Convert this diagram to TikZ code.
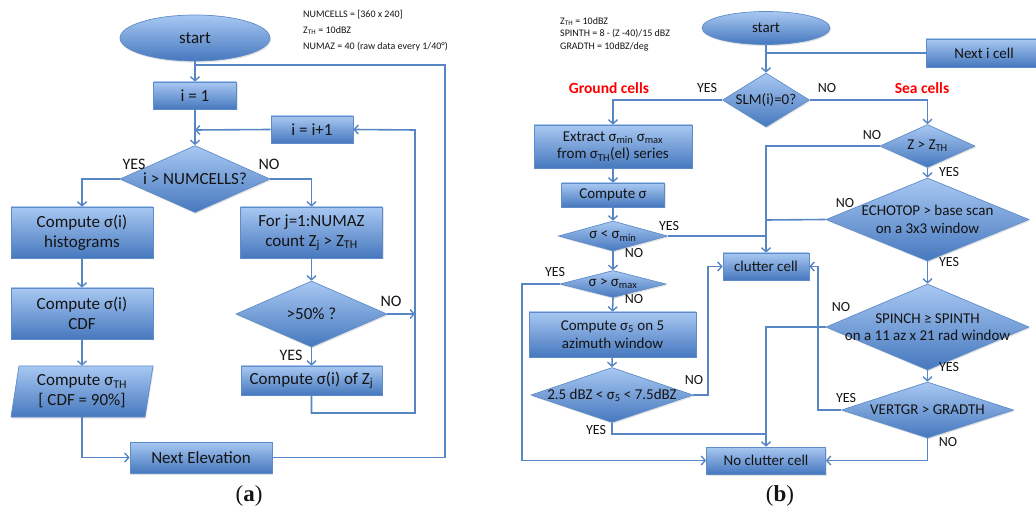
\documentclass[tikz,border=0pt]{standalone}
\usepackage{fontspec}
\setmainfont{Carlito}
\newfontfamily\capfont{Liberation Serif}
\usetikzlibrary{shapes.geometric,arrows.meta,shadows}
\definecolor{topc}{RGB}{168,200,242}
\definecolor{botc}{RGB}{70,120,190}
\definecolor{bordc}{RGB}{95,140,200}
\definecolor{linec}{RGB}{88,134,196}
\definecolor{txtc}{RGB}{20,20,20}
\newcommand\fa{\fontsize{17}{20}\selectfont}
\newcommand\fb{\fontsize{15}{17.5}\selectfont}
\newcommand\fla{\fontsize{16}{18}\selectfont}
\newcommand\flb{\fontsize{14}{16}\selectfont}
\newcommand\fna{\fontsize{10}{16}\selectfont}
\newcommand\fnb{\fontsize{10}{12.5}\selectfont}
\tikzset{
  fl/.style={draw=bordc, line width=0.7pt, top color=topc, bottom color=botc, inner sep=0pt, align=center, text=txtc,
    drop shadow={opacity=0.22, shadow xshift=1pt, shadow yshift=-1.5pt}},
  box/.style={fl, rectangle},
  dia/.style={fl, diamond},
  ell/.style={fl, ellipse},
  txt/.style={inner sep=0pt, align=center, text=txtc},
  lab/.style={inner sep=0pt, text=txtc},
  ln/.style={draw=linec, line width=1.6pt},
  arr/.style={ln, -{Straight Barb[length=4pt,width=9pt,line width=1.4pt]}},
  red/.style={inner sep=0pt, text=red, font=\fontsize{15.5}{18}\selectfont\bfseries},
}
\begin{document}
\begin{tikzpicture}[x=1pt,y=-1pt]
\useasboundingbox (0,0) rectangle (1036,510);
% ---------------- panel (a)
\node[ell, minimum width=150, minimum height=46, font=\fa] (sa) at (195,38) {start};
\node[lab, anchor=north west, align=left, font=\fna] (na) at (303,10) {NUMCELLS = [360 x 240]\\Z\textsubscript{TH} = 10dBZ\\NUMAZ = 40 (raw data every 1/40°)};
\node[box, minimum width=83, minimum height=27, font=\fa] (i1) at (195,95.5) {i = 1};
\node[box, minimum width=82, minimum height=27, font=\fa] (inc) at (312,129.5) {i = i+1};
\node[dia, minimum width=150, minimum height=67] (d1) at (195,179) {};
\node[txt, font=\fa] (d1t) at (d1) {i > NUMCELLS?};
\node[box, minimum width=142, minimum height=51, font=\fa] (hist) at (82,232.5) {Compute σ(i)\\histograms};
\node[box, minimum width=142, minimum height=51, font=\fa] (forj) at (311.5,232.5) {For j=1:NUMAZ\\count Z\textsubscript{j} > Z\textsubscript{TH}};
\node[box, minimum width=142, minimum height=51, font=\fa] (cdf) at (82,313.5) {Compute σ(i)\\CDF};
\path[fl] (19,366) -- (153,366) -- (145,417) -- (11,417) -- cycle;
\node[txt, font=\fa, minimum width=134, minimum height=51] (sth) at (82,391.5) {Compute σ\textsubscript{TH}\\{}[ CDF = 90\%]};
\node[dia, minimum width=151, minimum height=66] (d2) at (311.5,314) {};
\node[txt, font=\fa] (d2t) at (d2) {>50\% ?};
\node[box, minimum width=141, minimum height=29, font=\fa] (csz) at (311.5,380.5) {Compute σ(i) of Z\textsubscript{j}};
\node[box, minimum width=142, minimum height=31, font=\fa] (next) at (201,457.5) {Next Elevation};
\coordinate (ja) at (195,65);
\coordinate (ra) at (445,65);
\coordinate (jb) at (195,130);
\coordinate (rb) at (415,314);
\coordinate (rc) at (415,130);
\coordinate (rd) at (415,413);
\draw[arr] (sa) -- (i1);
\draw[ln] (next.east) -| (ra) -- (ja);
\draw[arr] (i1) -- (d1.north);
\draw[arr] (inc.west) -- (jb);
\draw[arr] (d1.west) -| (hist.north);
\draw[arr] (d1.east) -| (forj.north);
\draw[arr] (hist) -- (cdf);
\draw[arr] (cdf.south) -- (sth.north);
\draw[arr] (sth.south) |- (next.west);
\draw[arr] (forj) -- (d2.north);
\draw[arr] (d2.east) -- (rb);
\draw[arr] (d2.south) -- (csz.north);
\draw[arr] (csz.south) |- (rd) -- (rc) -- (inc.east);
\node[lab, font=\fla] (ya) at (134,164) {YES};
\node[lab, font=\fla] (noa) at (269,164) {NO};
\node[lab, font=\fla] (nob) at (391,301) {NO};
\node[lab, font=\fla] (yb) at (291,355) {YES};
\node[lab, font=\fontsize{23}{26}\capfont] (cap1) at (249,496) {(\textbf{a})};
% ---------------- panel (b)
\node[lab, anchor=north west, align=left, font=\fnb] (nb) at (560,17) {Z\textsubscript{TH} = 10dBZ\\SPINTH = 8 - (Z -40)/15 dBZ\\GRADTH = 10dBZ/deg};
\node[ell, minimum width=128, minimum height=33, font=\fb] (sb) at (766,28) {start};
\node[box, minimum width=116, minimum height=28, font=\fb] (nic) at (984,53) {Next i cell};
\node[dia, minimum width=87, minimum height=54] (slm) at (766,100) {};
\node[txt, font=\fb] (slmt) at (slm) {SLM(i)=0?};
\node[box, minimum width=158, minimum height=43, font=\fb] (ext) at (613,146.5) {Extract σ\textsubscript{min} σ\textsubscript{max}\\from σ\textsubscript{TH}(el) series};
\node[box, minimum width=103, minimum height=24, font=\fb] (cs) at (613,195) {Compute σ};
\node[dia, minimum width=109, minimum height=30] (dmin) at (613,236) {};
\node[txt, font=\fb] (dmint) at (dmin) {σ < σ\textsubscript{min}};
\node[dia, minimum width=106, minimum height=27] (dmax) at (613,284) {};
\node[txt, font=\fb] (dmaxt) at (dmax) {σ > σ\textsubscript{max}};
\node[box, minimum width=167, minimum height=45, font=\fb] (c5) at (612.5,334.5) {Compute σ\textsubscript{5} on 5\\azimuth window};
\node[dia, minimum width=162, minimum height=55] (d25) at (612,395) {};
\node[txt, font=\fb] (d25t) at (d25) {2.5 dBZ < σ\textsubscript{5} < 7.5dBZ};
\node[box, minimum width=86, minimum height=27, font=\fb] (cc) at (766,266.5) {clutter cell};
\node[box, minimum width=119, minimum height=27, font=\fb] (ncc) at (766,460.5) {No clutter cell};
\node[dia, minimum width=95, minimum height=43] (dz) at (927.5,146) {};
\node[txt, font=\fb] (dzt) at (dz) {Z > Z\textsubscript{TH}};
\node[dia, minimum width=203, minimum height=83] (decho) at (927.5,219.5) {};
\node[txt, font=\fb] (dechot) at (decho) {ECHOTOP > base scan\\on a 3x3 window};
\node[dia, minimum width=203, minimum height=86] (dspin) at (927.5,327) {};
\node[txt, font=\fb] (dspint) at (dspin) {SPINCH ≥ SPINTH\\on a 11 az x 21 rad window};
\node[dia, minimum width=172, minimum height=56] (dvert) at (927.5,410) {};
\node[txt, font=\fb] (dvertt) at (dvert) {VERTGR > GRADTH};
\coordinate (jc) at (766,53);
\coordinate (jd) at (766,236);
\coordinate (je) at (766,220);
\coordinate (lf) at (522,284);
\coordinate (rg) at (708,395);
\coordinate (jh) at (766,434);
\coordinate (lv) at (818,410);
\draw[arr] (sb) -- (slm.north);
\draw[ln] (nic.west) -- (jc);
\draw[arr] (slm.west) -| (ext.north);
\draw[arr] (slm.east) -| (dz.north);
\draw[arr] (ext) -- (cs);
\draw[arr] (cs) -- (dmin.north);
\draw[arr] (dmin.south) -- (dmax.north);
\draw[arr] (dmax.south) -- (c5.north);
\draw[arr] (c5) -- (d25.north);
\draw[ln] (dmin.east) -- (jd);
\draw[arr] (dz.west) -| (cc.north);
\draw[ln] (decho.west) -- (je);
\draw[arr] (dmax.west) -- (lf) |- (ncc.west);
\draw[arr] (d25.east) -- (rg) |- (cc.west);
\draw[ln] (d25.south) |- (jh);
\draw[arr] (dspin.west) -| (ncc.north);
\draw[arr] (dz.south) -- (decho.north);
\draw[arr] (decho.south) -- (dspin.north);
\draw[arr] (dspin.south) -- (dvert.north);
\draw[arr] (dvert.west) -- (lv) |- (cc.east);
\draw[arr] (dvert.south) |- (ncc.east);
\node[red] (gc) at (609,88) {Ground cells};
\node[red] (sc) at (922,88) {Sea cells};
\node[lab, font=\flb] (l1) at (707,88) {YES};
\node[lab, font=\flb] (l2) at (827,88) {NO};
\node[lab, font=\flb] (l3) at (872,135) {NO};
\node[lab, font=\flb] (l4) at (949,172) {YES};
\node[lab, font=\flb] (l5) at (845,203) {NO};
\node[lab, font=\flb] (l6) at (949,262) {YES};
\node[lab, font=\flb] (l7) at (841,307) {NO};
\node[lab, font=\flb] (l8) at (949,367) {YES};
\node[lab, font=\flb] (l9) at (846,398) {YES};
\node[lab, font=\flb] (l10) at (948,442) {NO};
\node[lab, font=\flb] (l11) at (669,226) {YES};
\node[lab, font=\flb] (l12) at (634,253) {NO};
\node[lab, font=\flb] (l13) at (555,272) {YES};
\node[lab, font=\flb] (l14) at (634,299) {NO};
\node[lab, font=\flb] (l15) at (694,380) {NO};
\node[lab, font=\flb] (l16) at (596,430) {YES};
\node[lab, font=\fontsize{23}{26}\capfont] (cap2) at (780,496) {(\textbf{b})};
\end{tikzpicture}
\end{document}
